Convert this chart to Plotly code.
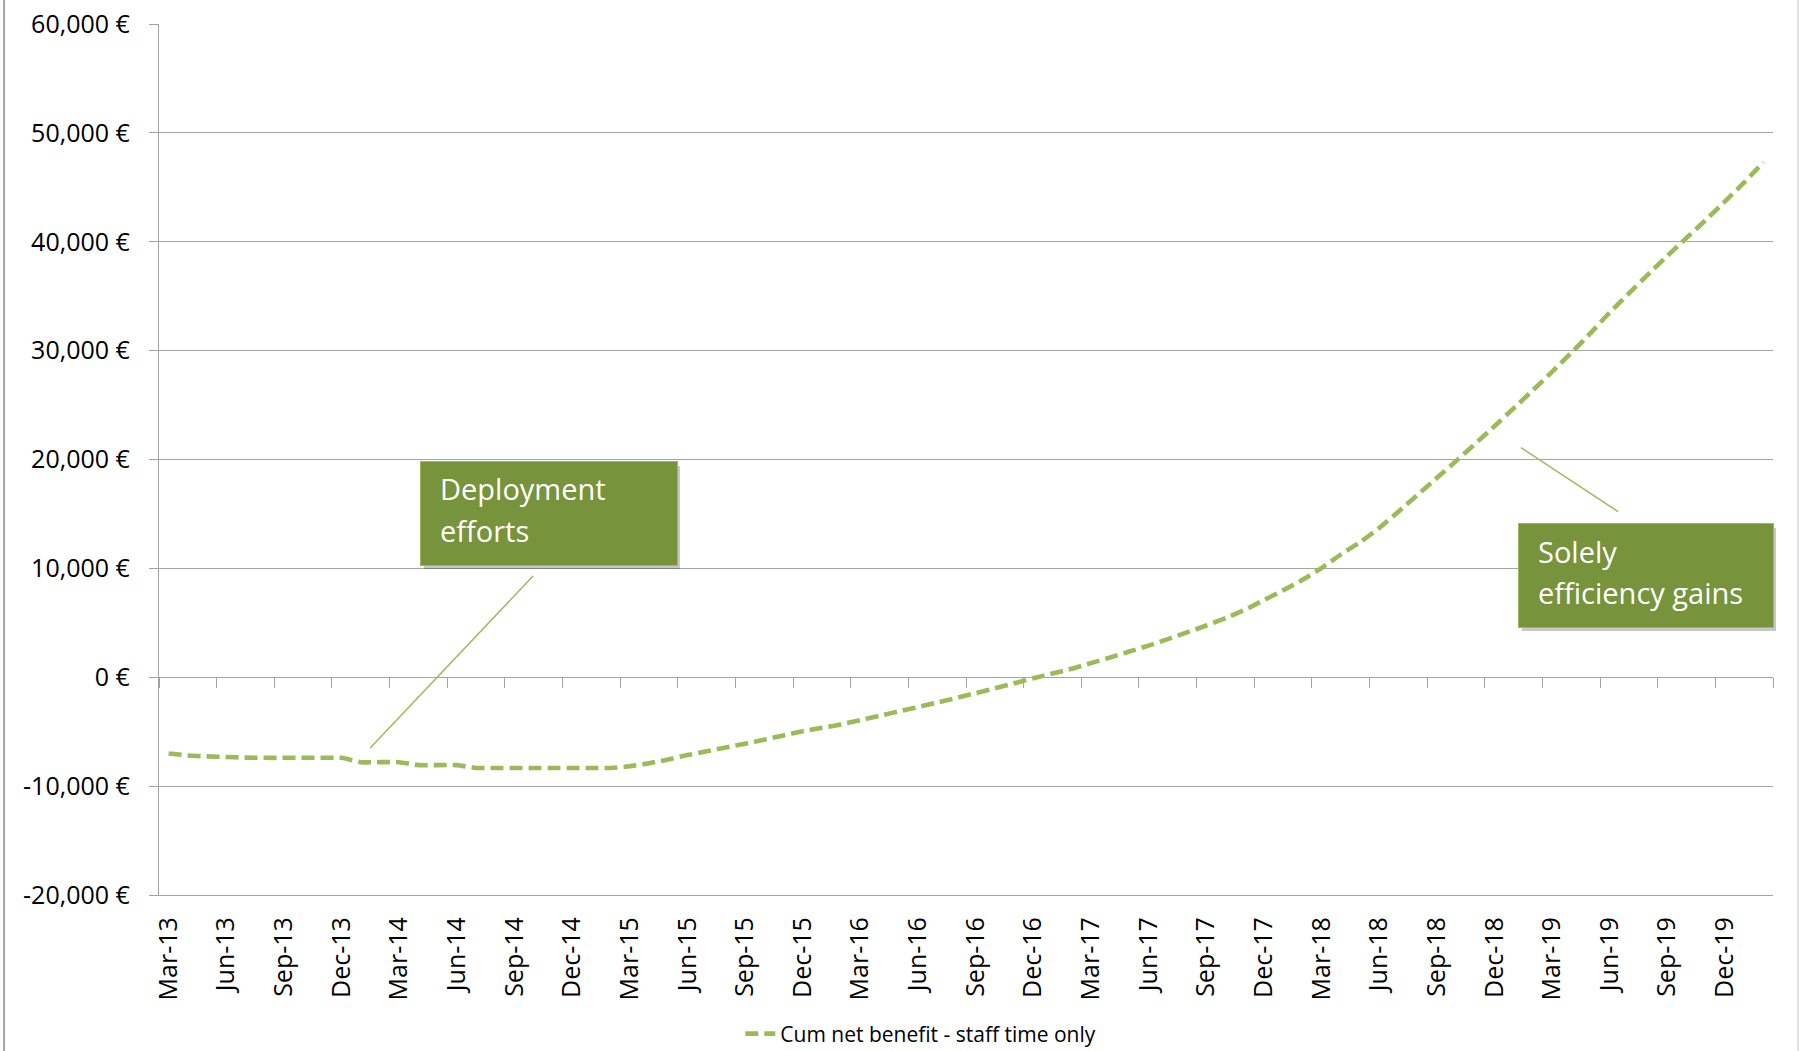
import plotly.graph_objects as go

# ---- data -------------------------------------------------------------
months = [
    "Mar-13", "Apr-13", "May-13", "Jun-13", "Jul-13", "Aug-13", "Sep-13", "Oct-13", "Nov-13", "Dec-13",
    "Jan-14", "Feb-14", "Mar-14", "Apr-14", "May-14", "Jun-14", "Jul-14", "Aug-14", "Sep-14", "Oct-14",
    "Nov-14", "Dec-14", "Jan-15", "Feb-15", "Mar-15", "Apr-15", "May-15", "Jun-15", "Jul-15", "Aug-15",
    "Sep-15", "Oct-15", "Nov-15", "Dec-15", "Jan-16", "Feb-16", "Mar-16", "Apr-16", "May-16", "Jun-16",
    "Jul-16", "Aug-16", "Sep-16", "Oct-16", "Nov-16", "Dec-16", "Jan-17", "Feb-17", "Mar-17", "Apr-17",
    "May-17", "Jun-17", "Jul-17", "Aug-17", "Sep-17", "Oct-17", "Nov-17", "Dec-17", "Jan-18", "Feb-18",
    "Mar-18", "Apr-18", "May-18", "Jun-18", "Jul-18", "Aug-18", "Sep-18", "Oct-18", "Nov-18", "Dec-18",
    "Jan-19", "Feb-19", "Mar-19", "Apr-19", "May-19", "Jun-19", "Jul-19", "Aug-19", "Sep-19", "Oct-19",
    "Nov-19", "Dec-19", "Jan-20", "Feb-20",
]

cum_net_benefit = [
    -7000, -7180, -7270, -7320, -7380, -7400, -7400, -7400, -7400, -7400,
    -7800, -7800, -7800, -8070, -8070, -8070, -8330, -8330, -8330, -8330,
    -8330, -8330, -8330, -8330, -8180, -7900, -7550, -7150, -6800, -6450,
    -6100, -5730, -5350, -4960, -4640, -4330, -3930, -3540, -3140, -2740,
    -2330, -1900, -1460, -1010, -560, -90, 340, 780, 1300, 1820,
    2360, 2910, 3500, 4120, 4750, 5420, 6180, 7080, 7980, 8930,
    10030, 11270, 12400, 13700, 15200, 16750, 18300, 19850, 21450, 23050,
    24700, 26350, 28050, 29800, 31600, 33500, 35250, 37000, 38700, 40350,
    42000, 43700, 45450, 47300,
]

series_name = "Cum net benefit - staff time only"

y_ticks = [-20000, -10000, 0, 10000, 20000, 30000, 40000, 50000, 60000]
y_tick_labels = ["-20,000 €", "-10,000 €", "0 €", "10,000 €", "20,000 €",
                 "30,000 €", "40,000 €", "50,000 €", "60,000 €"]

label_months = months[::3]

callout_1_lines = ["Deployment", "efforts"]
callout_2_lines = ["Solely", "efficiency gains"]

# ---- styling ------------------------------------------------------------
FONT = "Open Sans"
GRID = "#A3A3A3"
LINE_GREEN = "#9BBB59"
BOX_GREEN = "#77933C"

n = len(months)
idx = list(range(n))

fig = go.Figure()

# invisible helper trace so the zero-line axis (x2) is drawn
fig.add_trace(go.Scatter(
    x=idx, y=cum_net_benefit, xaxis="x2", yaxis="y",
    mode="lines", line=dict(width=0, color="rgba(0,0,0,0)"),
    hoverinfo="skip", showlegend=False,
))

fig.add_trace(go.Scatter(
    x=months, y=cum_net_benefit, name=series_name,
    mode="lines",
    line=dict(color=LINE_GREEN, width=4.6, dash="13px,6px", shape="spline", smoothing=0.5),
))

fig.update_layout(
    template="none",
    width=1799, height=1051,
    margin=dict(l=159, r=26, t=24, b=156, autoexpand=False),
    paper_bgcolor="white", plot_bgcolor="white",
    font=dict(family=FONT, size=25, color="#000000"),
    showlegend=True,
    legend=dict(
        orientation="h", x=0.472, xanchor="center",
        yref="container", y=0.0162, yanchor="middle",
        font=dict(family=FONT, size=21, color="#000000"),
        bgcolor="rgba(0,0,0,0)",
    ),
    xaxis=dict(
        type="category", categoryorder="array", categoryarray=months,
        range=[-0.5, n - 0.5], automargin=False,
        tickmode="array", tickvals=label_months, ticktext=label_months,
        tickangle=-90, ticks="", ticklabelstandoff=11,
        showgrid=False, zeroline=False,
        showline=True, linecolor=GRID, linewidth=1.3,
        tickfont=dict(family=FONT, size=25, color="#000000"),
    ),
    xaxis2=dict(
        overlaying="x", anchor="free", position=0.25,
        type="linear", range=[-0.5, n - 0.5], automargin=False,
        tickmode="array", tickvals=[i - 0.5 for i in range(0, n + 1, 3)],
        ticks="outside", ticklen=10, tickwidth=1.3, tickcolor=GRID,
        showticklabels=False, showgrid=False, zeroline=False,
        showline=True, linecolor=GRID, linewidth=1.3,
    ),
    yaxis=dict(
        range=[-20000, 60000], automargin=False,
        tickmode="array", tickvals=y_ticks, ticktext=y_tick_labels,
        ticks="outside", ticklen=9, tickwidth=1.3, tickcolor=GRID,
        ticklabelstandoff=14,
        showgrid=True, gridcolor=GRID, gridwidth=1.3,
        zeroline=False,
        showline=True, linecolor=GRID, linewidth=1.3,
        tickfont=dict(family=FONT, size=25, color="#000000"),
    ),
)

# connector lines of the callouts
fig.add_shape(type="line", xref="x", yref="y", x0=18.98, y0=9320, x1=10.49, y1=-6500,
              line=dict(color=LINE_GREEN, width=1.5))
fig.add_shape(type="line", xref="x", yref="y", x0=70.38, y0=21100, x1=75.44, y1=15210,
              line=dict(color=LINE_GREEN, width=1.5))

# callout boxes (shadow, box, then one text line each)
def callout(lines, xc, yc, w, h, xtext, ylines):
    fig.add_annotation(
        x=xc, y=yc, xref="x", yref="y", text=" ", showarrow=False,
        width=w - 2, height=h - 2, borderpad=0, borderwidth=0,
        bgcolor="rgba(0,0,0,0.22)", xshift=3, yshift=-4,
    )
    fig.add_annotation(
        x=xc, y=yc, xref="x", yref="y", text=" ", showarrow=False,
        width=w - 2, height=h - 2, borderpad=0, borderwidth=1,
        bordercolor=LINE_GREEN, bgcolor=BOX_GREEN,
    )
    for line, yl in zip(lines, ylines):
        fig.add_annotation(
            x=xtext, y=yl, xref="x", yref="y", text=line, showarrow=False,
            xanchor="left", yanchor="middle",
            font=dict(family=FONT, size=29, color="white"),
        )

callout(callout_1_lines, 19.81, 15070, 258, 105, 14.03, [17323, 13459])
callout(callout_2_lines, 76.9, 9365, 256, 105, 71.17, [11527, 7755])

# outer chart frame (left and right edges)
fig.add_shape(type="line", xref="paper", yref="paper", x0=-0.0960, x1=-0.0960, y0=-0.3, y1=1.1,
              line=dict(color="#A6A6A6", width=2))
fig.add_shape(type="line", xref="paper", yref="paper", x0=1.0155, x1=1.0155, y0=-0.3, y1=1.1,
              line=dict(color="#E0E0E0", width=2))

fig.write_html(
    "out.html",
    config={"displayModeBar": False},
    post_script="document.body.style.margin='0';document.body.style.overflow='hidden';",
)
